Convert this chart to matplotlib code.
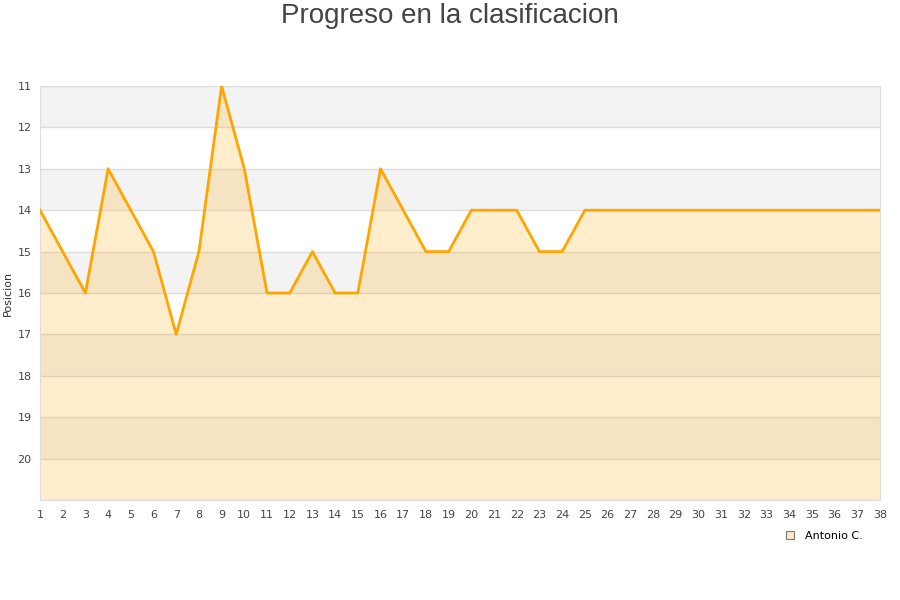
import matplotlib
matplotlib.use("Agg")
import matplotlib.pyplot as plt
from matplotlib.lines import Line2D

jornadas = list(range(1, 39))
posiciones = [14, 15, 16, 13, 14, 15, 17, 15, 11, 13, 16, 16, 15, 16, 16, 13, 14, 15, 15,
              14, 14, 14, 15, 15, 14, 14, 14, 14, 14, 14, 14, 14, 14, 14, 14, 14, 14, 14]
y_ticks = [11, 12, 13, 14, 15, 16, 17, 18, 19, 20]
title = "Progreso en la clasificacion"
ylabel = "Posicion"
series_name = "Antonio C."

fig = plt.figure(figsize=(9, 6), dpi=100)
ax = fig.add_axes([40/900, 1-500/600, 840/900, 414/600])

ymin, ymax = 11, 21
# alternating bands
for i, y0 in enumerate(range(ymin, ymax)):
    if i % 2 == 0:
        ax.axhspan(y0, y0 + 1, color="#f3f3f3", lw=0, zorder=0)
for y in range(ymin, ymax + 1):
    ax.axhline(y, color="#dddddd", lw=1, zorder=1)

ax.fill_between(jornadas, posiciones, ymax, color="#ffa500", alpha=0.2, lw=0, zorder=2)
ax.plot(jornadas, posiciones, color="#ffa500", lw=2, zorder=3)

ax.set_xlim(1, 38)
ax.set_ylim(ymax, ymin)
ax.set_xticks(jornadas)
ax.set_xticklabels([str(j) for j in jornadas])
ax.set_yticks(y_ticks)
ax.tick_params(length=0, labelsize=8, colors="#444444")
ax.tick_params(axis="x", pad=7)
ax.tick_params(axis="y", pad=6)
for s in ax.spines.values():
    s.set_color("#dddddd")
ax.set_ylabel(ylabel, fontsize=8, color="#333333")
ax.yaxis.set_label_coords(-0.032, 0.5)

fig.text(0.5, 0.973, title, fontsize=20, color="#444444", ha="center", va="center",
         family="Liberation Sans")

handle = Line2D([], [], marker="s", linestyle="none", markersize=6,
                markerfacecolor="#fde9c3", markeredgecolor="#777777", markeredgewidth=0.8)
fig.legend([handle], [series_name], loc="center", bbox_to_anchor=(0.912, 0.107),
           frameon=False, fontsize=8, handletextpad=0.4)

fig.savefig("out.png", dpi=100)
